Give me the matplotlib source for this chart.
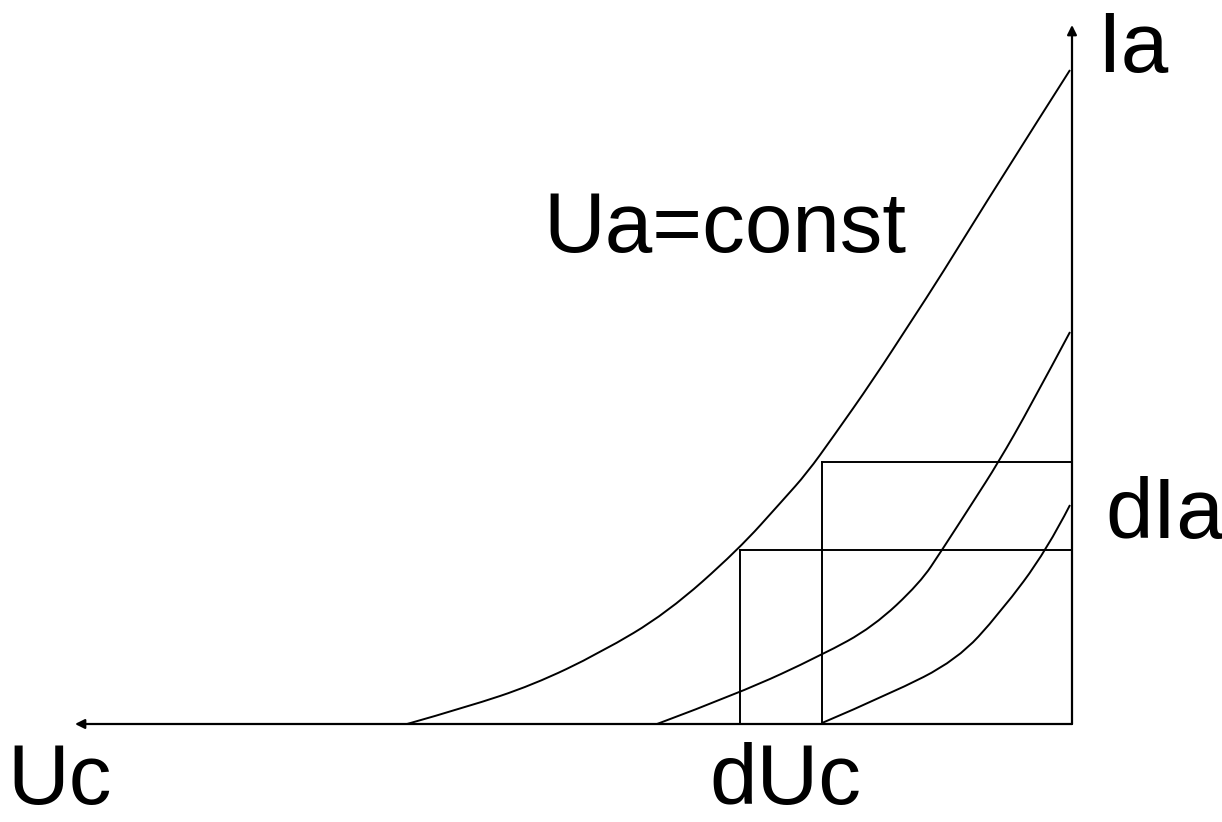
import matplotlib
matplotlib.use("Agg")
import matplotlib.pyplot as plt
from matplotlib.path import Path
from matplotlib.patches import PathPatch

# positions, in pixel units (y grows downwards)
origin = (1072, 724)
x_axis_end = 75
y_axis_end = 25

# three characteristic curves Ia(Uc)
c1_x = [407, 467, 533, 600, 667, 738, 783, 807, 833, 873, 912, 940, 1000, 1070]
c1_y = [724, 707, 685, 653, 613, 550, 500, 473, 437, 380, 320, 277, 180, 70]
c2_x = [657, 740, 822, 873, 920, 942, 973, 998, 1030, 1070]
c2_y = [724, 693, 655, 627, 583, 550, 502, 463, 407, 332]
c3_x = [822, 890, 957, 1000, 1047, 1070]
c3_y = [723, 694, 660, 613, 550, 505]

# small-signal construction lines
h_lines = [(550, 740), (462, 822)]   # (y, x start)
v_lines = [(740, 550), (822, 462)]   # (x, y top)

labels = [("Ia", 1097, 72), ("Ua=const", 543, 252), ("dIa", 1105, 538),
          ("Uc", 7, 804), ("dUc", 709, 804)]


def smooth_path(xs, ys):
    # quadratic bezier through midpoints, read points act as control points
    pts = list(zip(xs, ys))
    verts = [pts[0]]
    codes = [Path.MOVETO]
    for i in range(1, len(pts) - 1):
        mid = ((pts[i][0] + pts[i + 1][0]) / 2, (pts[i][1] + pts[i + 1][1]) / 2)
        if i == len(pts) - 2:
            mid = pts[-1]
        verts += [pts[i], mid]
        codes += [Path.CURVE3, Path.CURVE3]
    return Path(verts, codes)


fig = plt.figure(figsize=(12.22, 8.22), dpi=100)
ax = fig.add_axes([0, 0, 1, 1])
ax.set_xlim(0, 1222)
ax.set_ylim(822, 0)
ax.axis("off")

lw = 1.4
for xs, ys in [(c1_x, c1_y), (c2_x, c2_y), (c3_x, c3_y)]:
    ax.add_patch(PathPatch(smooth_path(xs, ys), fill=False, edgecolor="black", lw=lw))

for y, x0 in h_lines:
    ax.plot([x0, origin[0]], [y, y], color="black", lw=lw)
for x, y0 in v_lines:
    ax.plot([x, x], [y0, origin[1]], color="black", lw=lw)

arrow = dict(arrowstyle="-|>", color="black", lw=1.6, mutation_scale=14,
             shrinkA=0, shrinkB=0)
ax.annotate("", xy=(origin[0], y_axis_end), xytext=origin, arrowprops=arrow)
ax.annotate("", xy=(x_axis_end, origin[1]), xytext=origin, arrowprops=arrow)

for txt, x, y in labels:
    ax.text(x, y, txt, fontsize=61.5, family="Liberation Sans",
            ha="left", va="baseline", color="black")

fig.savefig("out.png", dpi=100)
